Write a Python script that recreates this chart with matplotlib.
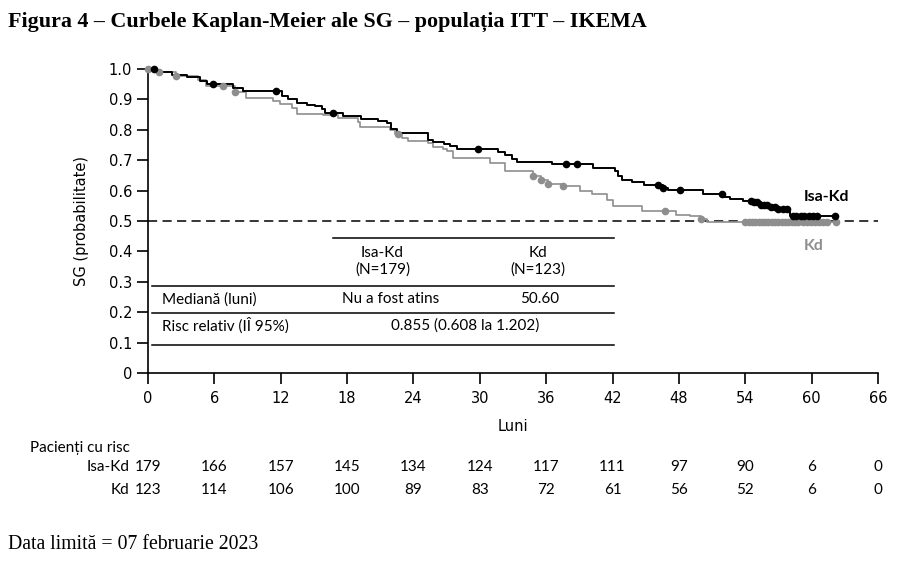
import numpy as np
import matplotlib
matplotlib.use('Agg')
import matplotlib.pyplot as plt
from matplotlib.transforms import blended_transform_factory

# curbe Kaplan-Meier (timp in luni, supravietuire dupa fiecare treapta)
isa_t = [0, 0.6, 2.2, 3.5, 4.7, 5.3, 7.7, 8.6, 12.1, 12.7, 13.5, 14.4, 15.1, 15.7, 16.0,
         17.6, 19.3, 20.8, 21.6, 22.0, 22.5, 25.3, 25.8, 26.8, 27.3, 27.9, 31.6, 32.3,
         32.9, 33.4, 36.5, 40.2, 42.2, 42.5, 42.9, 43.8, 44.8, 46.6, 47.0, 50.2, 52.0,
         52.6, 53.8, 54.6, 55.4, 56.2, 57.0, 58.0]
isa_s = [1.0, 0.99, 0.98, 0.972, 0.962, 0.951, 0.938, 0.928, 0.91, 0.90, 0.889, 0.883,
         0.878, 0.868, 0.856, 0.846, 0.836, 0.83, 0.823, 0.803, 0.79, 0.768, 0.759,
         0.754, 0.745, 0.737, 0.727, 0.716, 0.703, 0.693, 0.686, 0.673, 0.663, 0.649,
         0.634, 0.627, 0.619, 0.608, 0.603, 0.589, 0.578, 0.572, 0.567, 0.561, 0.553,
         0.547, 0.541, 0.517]
isa_end = 62.1

kd_t = [0, 0.8, 2.5, 4.5, 5.2, 7.9, 8.9, 11.3, 11.9, 13.0, 13.5, 15.8, 17.2, 19.0, 19.2,
        21.9, 22.3, 23.0, 23.5, 25.3, 25.8, 26.7, 27.0, 27.6, 30.9, 32.3, 34.8, 35.5,
        36.2, 37.5, 39.1, 40.1, 41.5, 42.0, 44.7, 47.7, 49.0, 50.0, 50.5]
kd_s = [1.0, 0.99, 0.976, 0.965, 0.945, 0.925, 0.903, 0.894, 0.886, 0.872, 0.852, 0.847,
        0.839, 0.825, 0.81, 0.80, 0.786, 0.773, 0.762, 0.755, 0.744, 0.737, 0.729, 0.707,
        0.69, 0.663, 0.647, 0.634, 0.623, 0.614, 0.597, 0.59, 0.57, 0.548, 0.534, 0.521,
        0.515, 0.506, 0.497]
kd_end = 62.2

# cenzurari
isa_cens = [0.5, 5.9, 11.6, 16.7, 29.8, 37.8, 38.8, 46.1, 46.6, 48.1, 51.9, 54.5, 54.8,
            55.1, 55.4, 55.7, 56.0, 56.3, 56.7, 57.0, 57.4, 57.8, 58.3, 58.6, 59.0, 59.3,
            59.8, 60.1, 60.5, 62.1]
kd_cens = [0.0, 1.0, 2.5, 6.8, 7.9, 22.6, 34.8, 35.5, 36.2, 37.5, 46.7, 50.0, 54.0, 54.3,
           54.6, 54.9, 55.2, 55.5, 55.8, 56.1, 56.4, 56.7, 57.0, 57.3, 57.6, 57.9, 58.2,
           58.5, 58.8, 59.2, 59.6, 59.9, 60.3, 60.7, 61.0, 61.4, 62.2]

# pacienti cu risc
risk_times = [0, 6, 12, 18, 24, 30, 36, 42, 48, 54, 60, 66]
risk_isa = [179, 166, 157, 145, 134, 124, 117, 111, 97, 90, 6, 0]
risk_kd = [123, 114, 106, 100, 89, 83, 72, 61, 56, 52, 6, 0]

BLACK = '#000000'
GREY = '#8e8e8e'
TABLE_FONT = ['Lato', 'DejaVu Sans']


def surv_at(t, s, x):
    idx = np.searchsorted(t, x, side='right') - 1
    return np.array(s)[idx]


fig = plt.figure(figsize=(9.21, 5.63), dpi=100)
ax = fig.add_axes([0.1607, 0.3375, 0.7926, 0.5400])

for t, s, end, cens, col, lw in [(kd_t, kd_s, kd_end, kd_cens, GREY, 1.2),
                                 (isa_t, isa_s, isa_end, isa_cens, BLACK, 1.4)]:
    ax.step(list(t) + [end], list(s) + [s[-1]], where='post', color=col, lw=lw,
            clip_on=False, zorder=3)
    ax.plot(cens, surv_at(t, s, cens), 'o', color=col, ms=5.5, mec='none',
            clip_on=False, zorder=4)

ax.axhline(0.5, color=BLACK, lw=1.1, ls=(0, (6, 3.5)), zorder=2)

ax.set_xlim(0, 66)
ax.set_ylim(0, 1.0)
ax.set_xticks(risk_times)
ax.set_yticks(np.arange(0, 1.01, 0.1))
ax.set_yticklabels(['0', '0.1', '0.2', '0.3', '0.4', '0.5', '0.6', '0.7', '0.8', '0.9', '1.0'])
for sp in ['top', 'right']:
    ax.spines[sp].set_visible(False)
for sp in ['left', 'bottom']:
    ax.spines[sp].set_linewidth(1.2)
ax.tick_params(direction='out', length=8, width=1.2, labelsize=10.5, colors=BLACK)
ax.tick_params(axis='x', pad=5)
ax.tick_params(axis='y', pad=3.5)
ax.set_xlabel('Luni', fontsize=10.5, labelpad=9)
ax.set_ylabel('SG (probabilitate)', fontsize=10.5, labelpad=14)

# tabel in grafic
ax.plot([16.7, 42.1], [0.444, 0.444], color=BLACK, lw=1.1)
for y in [0.286, 0.197, 0.092]:
    ax.plot([0.4, 42.1], [y, y], color=BLACK, lw=1.1)
tf = dict(fontsize=11, family=TABLE_FONT, va='center')
ax.text(21.2, 0.395, 'Isa-Kd', ha='center', **tf)
ax.text(21.2, 0.339, '(N=179)', ha='center', **tf)
ax.text(35.3, 0.395, 'Kd', ha='center', **tf)
ax.text(35.3, 0.339, '(N=123)', ha='center', **tf)
ax.text(1.25, 0.243, 'Mediană (luni)', ha='left', **tf)
ax.text(21.9, 0.243, 'Nu a fost atins', ha='center', **tf)
ax.text(35.4, 0.243, '50.60', ha='center', **tf)
ax.text(1.25, 0.155, 'Risc relativ (IÎ 95%)', ha='left', **tf)
ax.text(28.7, 0.155, '0.855 (0.608 la 1.202)', ha='center', **tf)

ax.text(61.3, 0.579, 'Isa-Kd', ha='center', va='center', fontsize=11.5,
        fontweight='bold', family=TABLE_FONT, color=BLACK)
ax.text(60.2, 0.418, 'Kd', ha='center', va='center', fontsize=11.5,
        fontweight='bold', family=TABLE_FONT, color=GREY)

# pacienti cu risc
tr = blended_transform_factory(ax.transData, fig.transFigure)
rf = dict(fontsize=11, family=TABLE_FONT, va='center')
fig.text(0.0326, 0.2043, 'Pacienți cu risc', ha='left', **rf)
ax.text(-1.7, 0.170, 'Isa-Kd', transform=tr, ha='right', **rf)
ax.text(-1.7, 0.1297, 'Kd', transform=tr, ha='right', **rf)
for x, a, b in zip(risk_times, risk_isa, risk_kd):
    ax.text(x, 0.170, str(a), transform=tr, ha='center', clip_on=False, **rf)
    ax.text(x, 0.1297, str(b), transform=tr, ha='center', clip_on=False, **rf)

fig.text(0.0087, 0.961, 'Figura 4 – Curbele Kaplan-Meier ale SG – populația ITT – IKEMA',
         ha='left', va='center', fontsize=15.8, fontweight='bold', family='Liberation Serif')
fig.text(0.0087, 0.032, 'Data limită = 07 februarie 2023', ha='left', va='center',
         fontsize=14.2, family='Liberation Serif')

fig.savefig('out.png', dpi=100)
